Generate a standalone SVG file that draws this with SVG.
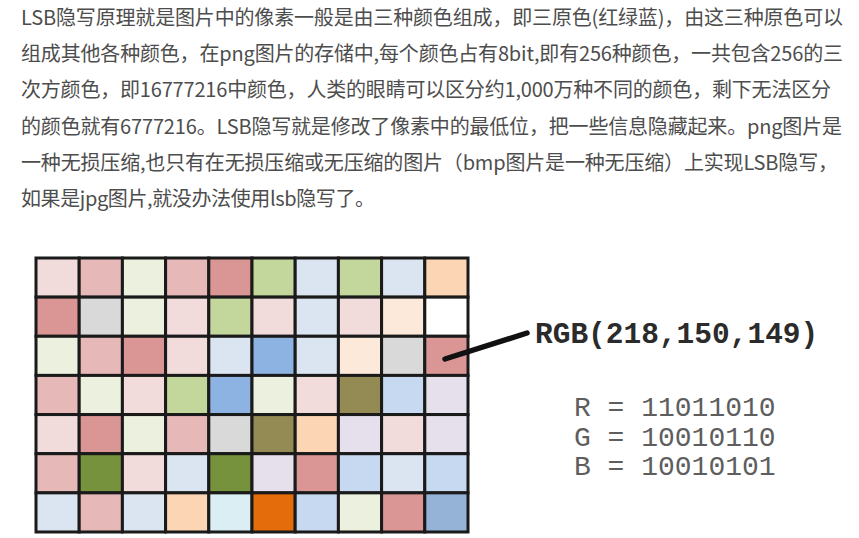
<svg xmlns="http://www.w3.org/2000/svg" width="859" height="538" viewBox="0 0 859 538">
<style>
.p{font-family:"Noto Sans CJK SC","Microsoft YaHei",sans-serif;font-size:20px;fill:#4d4d4d}
.c rect{stroke:#1a1a1a;stroke-width:3}
.A{fill:#f2dcdb}.P{fill:#e6b9b8}.R{fill:#da9694}.C{fill:#ebf1de}.G{fill:#c3d69b}
.L{fill:#dbe5f1}.B{fill:#8db3e2}.K{fill:#95b3d7}.Y{fill:#d9d9d9}.E{fill:#fcd5b4}
.F{fill:#fde9d9}.W{fill:#ffffff}.O{fill:#948a54}.D{fill:#76923c}.V{fill:#e5e0ec}
.N{fill:#e46c0a}.S{fill:#c6d9f0}.T{fill:#daeef3}
.rgb{font-family:"Liberation Mono","Courier New",monospace;font-weight:bold;font-size:29.5px;fill:#2b2b2b}
.bin{font-family:"Liberation Mono","Courier New",monospace;font-size:28px;fill:#5e5e5e}
</style>
<rect width="859" height="538" fill="#ffffff"/>
<g id="paragraph">
<text class="p" x="21" y="25" textLength="822" lengthAdjust="spacing">LSB隐写原理就是图片中的像素一般是由三种颜色组成，即三原色(红绿蓝)，由这三种原色可以</text>
<text class="p" x="21" y="61.2" textLength="822" lengthAdjust="spacing">组成其他各种颜色，在png图片的存储中,每个颜色占有8bit,即有256种颜色，一共包含256的三</text>
<text class="p" x="21" y="97.4" textLength="810" lengthAdjust="spacing">次方颜色，即16777216中颜色，人类的眼睛可以区分约1,000万种不同的颜色，剩下无法区分</text>
<text class="p" x="21" y="133.6" textLength="821" lengthAdjust="spacing">的颜色就有6777216。LSB隐写就是修改了像素中的最低位，把一些信息隐藏起来。png图片是</text>
<text class="p" x="21" y="169.8" textLength="817" lengthAdjust="spacing">一种无损压缩,也只有在无损压缩或无压缩的图片（bmp图片是一种无压缩）上实现LSB隐写，</text>
<text class="p" x="21" y="206" textLength="354" lengthAdjust="spacing">如果是jpg图片,就没办法使用lsb隐写了。</text>
</g>
<g id="pixel-grid" class="c">
<rect class="A" x="36" y="258" width="43.2" height="39.14"/>
<rect class="P" x="79.2" y="258" width="43.2" height="39.14"/>
<rect class="C" x="122.4" y="258" width="43.2" height="39.14"/>
<rect class="P" x="165.6" y="258" width="43.2" height="39.14"/>
<rect class="R" x="208.8" y="258" width="43.2" height="39.14"/>
<rect class="G" x="252" y="258" width="43.2" height="39.14"/>
<rect class="L" x="295.2" y="258" width="43.2" height="39.14"/>
<rect class="G" x="338.4" y="258" width="43.2" height="39.14"/>
<rect class="L" x="381.6" y="258" width="43.2" height="39.14"/>
<rect class="E" x="424.8" y="258" width="43.2" height="39.14"/>

<rect class="R" x="36" y="297.14" width="43.2" height="39.14"/>
<rect class="Y" x="79.2" y="297.14" width="43.2" height="39.14"/>
<rect class="C" x="122.4" y="297.14" width="43.2" height="39.14"/>
<rect class="A" x="165.6" y="297.14" width="43.2" height="39.14"/>
<rect class="G" x="208.8" y="297.14" width="43.2" height="39.14"/>
<rect class="A" x="252" y="297.14" width="43.2" height="39.14"/>
<rect class="L" x="295.2" y="297.14" width="43.2" height="39.14"/>
<rect class="A" x="338.4" y="297.14" width="43.2" height="39.14"/>
<rect class="F" x="381.6" y="297.14" width="43.2" height="39.14"/>
<rect class="W" x="424.8" y="297.14" width="43.2" height="39.14"/>

<rect class="C" x="36" y="336.28" width="43.2" height="39.14"/>
<rect class="P" x="79.2" y="336.28" width="43.2" height="39.14"/>
<rect class="R" x="122.4" y="336.28" width="43.2" height="39.14"/>
<rect class="A" x="165.6" y="336.28" width="43.2" height="39.14"/>
<rect class="L" x="208.8" y="336.28" width="43.2" height="39.14"/>
<rect class="B" x="252" y="336.28" width="43.2" height="39.14"/>
<rect class="L" x="295.2" y="336.28" width="43.2" height="39.14"/>
<rect class="F" x="338.4" y="336.28" width="43.2" height="39.14"/>
<rect class="Y" x="381.6" y="336.28" width="43.2" height="39.14"/>
<rect class="R" x="424.8" y="336.28" width="43.2" height="39.14"/>

<rect class="P" x="36" y="375.42" width="43.2" height="39.14"/>
<rect class="C" x="79.2" y="375.42" width="43.2" height="39.14"/>
<rect class="A" x="122.4" y="375.42" width="43.2" height="39.14"/>
<rect class="G" x="165.6" y="375.42" width="43.2" height="39.14"/>
<rect class="B" x="208.8" y="375.42" width="43.2" height="39.14"/>
<rect class="C" x="252" y="375.42" width="43.2" height="39.14"/>
<rect class="A" x="295.2" y="375.42" width="43.2" height="39.14"/>
<rect class="O" x="338.4" y="375.42" width="43.2" height="39.14"/>
<rect class="S" x="381.6" y="375.42" width="43.2" height="39.14"/>
<rect class="V" x="424.8" y="375.42" width="43.2" height="39.14"/>

<rect class="A" x="36" y="414.56" width="43.2" height="39.14"/>
<rect class="R" x="79.2" y="414.56" width="43.2" height="39.14"/>
<rect class="C" x="122.4" y="414.56" width="43.2" height="39.14"/>
<rect class="P" x="165.6" y="414.56" width="43.2" height="39.14"/>
<rect class="Y" x="208.8" y="414.56" width="43.2" height="39.14"/>
<rect class="O" x="252" y="414.56" width="43.2" height="39.14"/>
<rect class="E" x="295.2" y="414.56" width="43.2" height="39.14"/>
<rect class="V" x="338.4" y="414.56" width="43.2" height="39.14"/>
<rect class="A" x="381.6" y="414.56" width="43.2" height="39.14"/>
<rect class="V" x="424.8" y="414.56" width="43.2" height="39.14"/>

<rect class="P" x="36" y="453.7" width="43.2" height="39.14"/>
<rect class="D" x="79.2" y="453.7" width="43.2" height="39.14"/>
<rect class="A" x="122.4" y="453.7" width="43.2" height="39.14"/>
<rect class="L" x="165.6" y="453.7" width="43.2" height="39.14"/>
<rect class="D" x="208.8" y="453.7" width="43.2" height="39.14"/>
<rect class="V" x="252" y="453.7" width="43.2" height="39.14"/>
<rect class="R" x="295.2" y="453.7" width="43.2" height="39.14"/>
<rect class="S" x="338.4" y="453.7" width="43.2" height="39.14"/>
<rect class="L" x="381.6" y="453.7" width="43.2" height="39.14"/>
<rect class="S" x="424.8" y="453.7" width="43.2" height="39.14"/>

<rect class="L" x="36" y="492.84" width="43.2" height="39.14"/>
<rect class="P" x="79.2" y="492.84" width="43.2" height="39.14"/>
<rect class="L" x="122.4" y="492.84" width="43.2" height="39.14"/>
<rect class="E" x="165.6" y="492.84" width="43.2" height="39.14"/>
<rect class="T" x="208.8" y="492.84" width="43.2" height="39.14"/>
<rect class="N" x="252" y="492.84" width="43.2" height="39.14"/>
<rect class="S" x="295.2" y="492.84" width="43.2" height="39.14"/>
<rect class="C" x="338.4" y="492.84" width="43.2" height="39.14"/>
<rect class="R" x="381.6" y="492.84" width="43.2" height="39.14"/>
<rect class="K" x="424.8" y="492.84" width="43.2" height="39.14"/>
</g>
<g id="connectors">
<line x1="445" y1="359" x2="527" y2="333" stroke="#111111" stroke-width="5.5" stroke-linecap="round"/>
</g>
<g id="rgb-label">
<text class="rgb" x="535" y="343">RGB(218,150,149)</text>
</g>
<g id="binary-values">
<text class="bin" x="574" y="416">R = 11011010</text>
<text class="bin" x="574" y="446">G = 10010110</text>
<text class="bin" x="574" y="475">B = 10010101</text>
</g>
</svg>
